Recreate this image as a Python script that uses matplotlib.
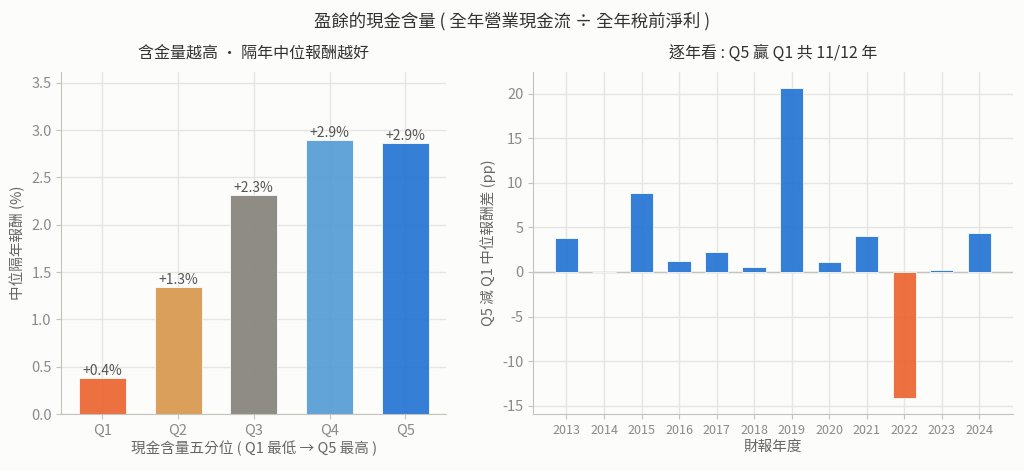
import numpy as np
import matplotlib
matplotlib.use("Agg")
import matplotlib.pyplot as plt

plt.rcParams['font.family'] = ['Noto Sans CJK TC', 'DejaVu Sans']
plt.rcParams['axes.unicode_minus'] = False

# quintile panel
quintiles = ["Q1", "Q2", "Q3", "Q4", "Q5"]
median_ret = [0.38, 1.34, 2.31, 2.89, 2.86]
q_colors = ["#EC6836", "#D99A52", "#88867F", "#5A9FD5", "#2A78D6"]

# yearly spread panel
years = [2013, 2014, 2015, 2016, 2017, 2018, 2019, 2020, 2021, 2022, 2023, 2024]
spread = [3.8, 0.03, 8.85, 1.2, 2.2, 0.55, 20.7, 1.1, 4.0, -14.2, 0.2, 4.35]

BG = "#FCFCFA"
GRID = "#E6E6E1"
SPINE = "#C4C4BC"
TICK = "#8A8A8A"
LABEL = "#666666"
TEXT = "#333333"


def style_axes(ax):
    ax.set_facecolor(BG)
    ax.grid(True, color=GRID, linewidth=1.0)
    ax.set_axisbelow(True)
    for s in ["top", "right"]:
        ax.spines[s].set_visible(False)
    for s in ["left", "bottom"]:
        ax.spines[s].set_color(SPINE)
    ax.tick_params(colors=SPINE, labelcolor=TICK, labelsize=10.5)


def main():
    fig, (ax1, ax2) = plt.subplots(1, 2, figsize=(10.24, 4.71), dpi=100,
                                   gridspec_kw={"width_ratios": [385, 480]})
    fig.patch.set_facecolor(BG)

    # left panel
    style_axes(ax1)
    x = np.arange(len(quintiles))
    bars = ax1.bar(x, median_ret, width=0.62, color=q_colors,
                   edgecolor="white", linewidth=0.6, alpha=0.95)
    for b, v in zip(bars, median_ret):
        ax1.text(b.get_x() + b.get_width() / 2, v, f"+{v:.1f}%",
                 ha="center", va="bottom", fontsize=10, color="#555555")
    ax1.set_xticks(x)
    ax1.set_xticklabels(quintiles)
    ax1.set_ylim(0, max(median_ret) * 1.25)
    ax1.set_title("含金量越高 · 隔年中位報酬越好", fontsize=11.5, color=TEXT, pad=10)
    ax1.set_ylabel("中位隔年報酬 (%)", fontsize=10.5, color=LABEL)
    ax1.set_xlabel("現金含量五分位 ( Q1 最低 → Q5 最高 )", fontsize=10.5, color=LABEL, labelpad=2)

    # right panel
    style_axes(ax2)
    xi = np.arange(len(years))
    cols = ["#2A78D6" if v >= 0 else "#EC6836" for v in spread]
    ax2.bar(xi, spread, width=0.62, color=cols, edgecolor="white", linewidth=0.6,
            alpha=0.95, zorder=3)
    ax2.axhline(0, color=SPINE, linewidth=1.0, zorder=2)
    ax2.set_xticks(xi)
    ax2.set_xticklabels([str(y) for y in years], fontsize=9)
    ax2.set_yticks([-15, -10, -5, 0, 5, 10, 15, 20])
    ax2.set_yticklabels(["-15", "-10", "-5", "0", "5", "10", "15", "20"])
    ax2.set_title("逐年看 : Q5 贏 Q1 共 11/12 年", fontsize=11.5, color=TEXT, pad=10)
    ax2.set_ylabel("Q5 減 Q1 中位報酬差 (pp)", fontsize=10.5, color=LABEL)
    ax2.set_xlabel("財報年度", fontsize=10.5, color=LABEL, labelpad=2)

    fig.suptitle("盈餘的現金含量 ( 全年營業現金流 ÷ 全年稅前淨利 )", fontsize=12.5, color=TEXT, y=0.975)
    fig.subplots_adjust(left=0.06, right=0.989, top=0.847, bottom=0.121, wspace=0.201)
    fig.savefig("out.png", dpi=100, facecolor=BG)


if __name__ == "__main__":
    main()
